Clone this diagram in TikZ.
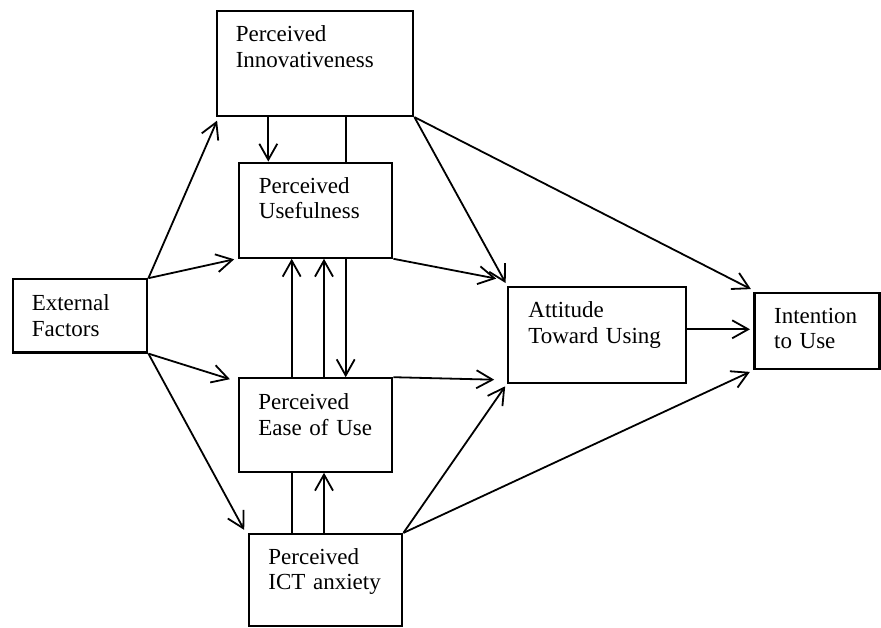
\documentclass[tikz,border=0pt]{standalone}
\usepackage{fontspec}
\setmainfont{Liberation Serif}
\usetikzlibrary{arrows.meta,calc}
\tikzset{
  box/.style={draw, line width=2.2pt, inner sep=0pt, rectangle},
  txt/.style={inner sep=0pt, anchor=base west, align=left, text width=200pt,
    font=\fontsize{23}{25.5}\selectfont},
  arr/.style={line width=1.8pt, -{Straight Barb[length=16pt,width=18pt,line width=1.8pt]}},
  ln/.style={line width=1.8pt}
}
\begin{document}
\begin{tikzpicture}[x=1pt,y=-1pt]
\useasboundingbox (0,0) rectangle (881,628);
% boxes
\node[box, minimum width=196.6pt, minimum height=105.3pt] (innov) at (315,63.35) {};
\node[box, minimum width=153pt, minimum height=95pt] (useful) at (315.8,210.2) {};
\node[box, minimum width=153.3pt, minimum height=93.4pt] (ease) at (315.65,425) {};
\node[box, minimum width=153pt, minimum height=92pt] (ict) at (325.8,580) {};
\node[box, minimum width=134.6pt, minimum height=73.2pt] (ext) at (80,315.9) {};
\node[box, minimum width=177.7pt, minimum height=96pt] (att) at (597.15,334.7) {};
\node[box, minimum width=125pt, minimum height=76.6pt] (intent) at (817,331) {};
% texts
\node[txt] (innovT) at ($(innov.north west)+(20,32)$) {Perceived\\Innovativeness};
\node[txt] (usefulT) at ($(useful.north west)+(20.5,31.8)$) {Perceived\\Usefulness};
\node[txt] (easeT) at ($(ease.north west)+(20.3,32.3)$) {Perceived\\Ease of Use};
\node[txt] (ictT) at ($(ict.north west)+(20,31.2)$) {Perceived\\ICT anxiety};
\node[txt] (extT) at ($(ext.north west)+(20,32.4)$) {External\\Factors};
\node[txt] (attT) at ($(att.north west)+(21,32.3)$) {Attitude\\Toward Using};
\node[txt] (intentT) at ($(intent.north west)+(20.5,31.7)$) {Intention\\to Use};
% connectors from External Factors
\draw[arr] (ext.north east) -- ($(innov.south west)+(1.5,3.5)$);
\draw[arr] (ext.north east) -- ($(useful.south west)+(-4,0.5)$);
\draw[arr] (ext.south east) -- ($(ease.north west)+(-8,2)$);
\draw[arr] (ext.south east) -- ($(ict.north west)+(-4,-3)$);
% vertical links
\draw[arr] (innov.south -| 268.3,0) -- (useful.north -| 268.3,0);
\draw[ln] (innov.south -| 345.7,0) -- (useful.north -| 345.7,0);
\draw[arr] (ease.north -| 291.7,0) -- (useful.south -| 291.7,0);
\draw[ln] (ict.north -| 291.7,0) -- (ease.south -| 291.7,0);
\draw[arr] (ease.north -| 324,0) -- (useful.south -| 324,0);
\draw[arr] (useful.south -| 345.7,0) -- (ease.north -| 345.7,0);
\draw[arr] (ict.north -| 324,0) -- (ease.south -| 324,0);
% to Attitude
\draw[arr] (useful.south east) -- ($(att.north west)+(-11,-7)$);
\draw[arr] (innov.south east) -- ($(att.north west)+(-1.5,-2.5)$);
\draw[arr] (ease.north east) -- ($(att.west |- ease.north)+(-13,2.5)$);
\draw[arr] (ict.north east) -- ($(att.south west)+(-2,2.5)$);
% to Intention
\draw[arr] (innov.south east) -- ($(intent.north west)+(-2.5,-2.5)$);
\draw[arr] (ict.north east) -- ($(intent.south west)+(-3.5,1.5)$);
\draw[arr] ($(att.east)+(0,-5.4)$) coordinate (attout) -- (attout -| 750,0);
\end{tikzpicture}
\end{document}
